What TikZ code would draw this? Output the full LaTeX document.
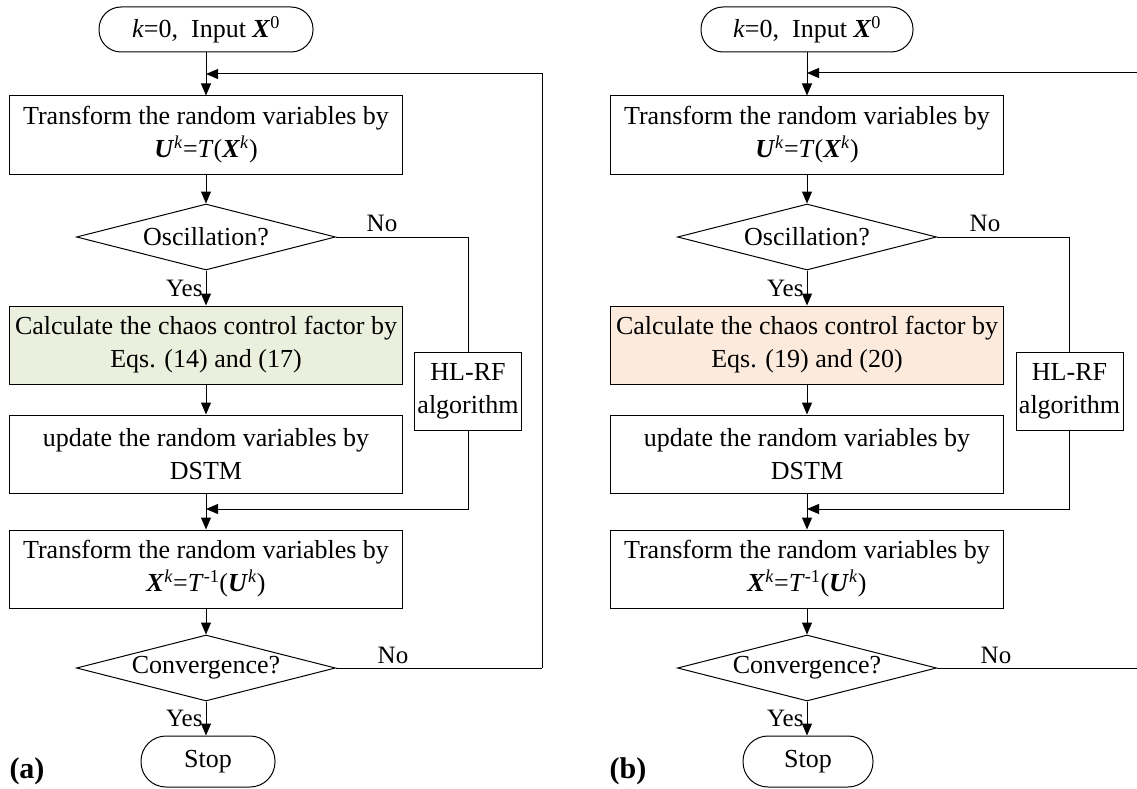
\documentclass[tikz,border=0pt]{standalone}
\usepackage{fontspec}
\setmainfont{Liberation Serif}
\usetikzlibrary{arrows.meta,shapes.geometric}
\definecolor{greenfill}{RGB}{235,240,222}
\definecolor{peachfill}{RGB}{252,234,221}
\newcommand{\bX}{\textbf{\textit{X}}}
\newcommand{\bU}{\textbf{\textit{U}}}
\newcommand{\supk}{\textsuperscript{\textit{k}}}
\begin{document}
\begin{tikzpicture}[x=1pt,y=-1pt,line width=1pt,
  every node/.style={font=\fontsize{26}{33}\selectfont, inner sep=0pt},
  proc/.style={draw, minimum width=393pt, minimum height=78pt, align=center},
  term/.style={draw, rounded corners=22pt, minimum height=45pt, align=center},
  dec/.style={draw, diamond, aspect=3.9, minimum width=259pt, minimum height=66pt},
  hlbox/.style={draw, minimum width=107pt, minimum height=78pt, align=center},
  arr/.style={-{Triangle[length=12pt,width=10pt]}},
  yn/.style={font=\fontsize{25}{30}\selectfont},
  panel/.style={font=\fontsize{30}{36}\selectfont\bfseries}]
\useasboundingbox (0,0) rectangle (1137,789);

% ---------- panel (a) ----------
\node[term, minimum width=214pt] (aS) at (206,29.5) {\textit{k}=0,\ \ Input \bX\textsuperscript{0}};
\node[proc] (aB1) at (206,135) {Transform the random variables by\\ \bU\supk=\textit{T}(\bX\supk)};
\node[dec] (aD1) at (206,237) {Oscillation?};
\node[proc, fill=greenfill] (aB2) at (206,345) {Calculate the chaos control factor by\\ Eqs. (14) and (17)};
\node[hlbox] (aH) at (468,391) {HL-RF\\ algorithm};
\node[proc] (aB3) at (206,454) {update the random variables by\\ DSTM};
\node[proc] (aB4) at (206,569) {Transform the random variables by\\ \bX\supk=\textit{T}\textsuperscript{-1}(\bU\supk)};
\node[dec] (aD2) at (206,668) {Convergence?};
\node[term, minimum width=134pt, rounded corners=25pt, minimum height=51pt] (aE) at (208,761.5) {Stop};
\coordinate (aL) at (206,74);
\coordinate (aM) at (206,509);
\coordinate (aR) at (542,668);

\draw (aS.south) -- (aL);
\draw[arr] (aL) -- (aB1.north);
\draw[arr] (aB1.south) -- (aD1.north);
\draw[arr] (aD1.south) -- (aB2.north);
\draw[arr] (aB2.south) -- (aB3.north);
\draw (aB3.south) -- (aM);
\draw[arr] (aM) -- (aB4.north);
\draw[arr] (aB4.south) -- (aD2.north);
\draw[arr] (aD2.south) -- (aD2.south |- aE.north);
\draw (aD1.east) -| (aH.north);
\draw[arr] (aH.south) |- (aM);
\draw (aD2.east) -- (aR);
\draw[arr] (aR) |- (aL);
\node[yn, anchor=east] (aY1) at (203,288) {Yes};
\node[yn, anchor=east] (aY2) at (203,718) {Yes};
\node[yn] (aN1) at (382,223) {No};
\node[yn] (aN2) at (393,655) {No};
\node[panel] (aP) at (27,771) {(a)};

% ---------- panel (b) ----------
\node[term, minimum width=212pt] (bS) at (807,29.5) {\textit{k}=0,\ \ Input \bX\textsuperscript{0}};
\node[proc] (bB1) at (807,135) {Transform the random variables by\\ \bU\supk=\textit{T}(\bX\supk)};
\node[dec] (bD1) at (807,237) {Oscillation?};
\node[proc, fill=peachfill] (bB2) at (807,345) {Calculate the chaos control factor by\\ Eqs. (19) and (20)};
\node[hlbox] (bH) at (1069.5,391) {HL-RF\\ algorithm};
\node[proc] (bB3) at (807,454) {update the random variables by\\ DSTM};
\node[proc] (bB4) at (807,569) {Transform the random variables by\\ \bX\supk=\textit{T}\textsuperscript{-1}(\bU\supk)};
\node[dec] (bD2) at (807,668) {Convergence?};
\node[term, minimum width=130pt, rounded corners=25pt, minimum height=51pt] (bE) at (808,761.5) {Stop};
\coordinate (bL) at (807,73);
\coordinate (bM) at (807,509);
\coordinate (bR) at (1137,668);
\coordinate (bT) at (1137,73);

\draw (bS.south) -- (bL);
\draw[arr] (bL) -- (bB1.north);
\draw[arr] (bB1.south) -- (bD1.north);
\draw[arr] (bD1.south) -- (bB2.north);
\draw[arr] (bB2.south) -- (bB3.north);
\draw (bB3.south) -- (bM);
\draw[arr] (bM) -- (bB4.north);
\draw[arr] (bB4.south) -- (bD2.north);
\draw[arr] (bD2.south) -- (bD2.south |- bE.north);
\draw (bD1.east) -| (bH.north);
\draw[arr] (bH.south) |- (bM);
\draw (bD2.east) -- (bR);
\draw[arr] (bT) -- (bL);
\node[yn, anchor=east] (bY1) at (804,288) {Yes};
\node[yn, anchor=east] (bY2) at (804,718) {Yes};
\node[yn] (bN1) at (985,223) {No};
\node[yn] (bN2) at (996,655) {No};
\node[panel] (bP) at (628,771) {(b)};
\end{tikzpicture}
\end{document}
